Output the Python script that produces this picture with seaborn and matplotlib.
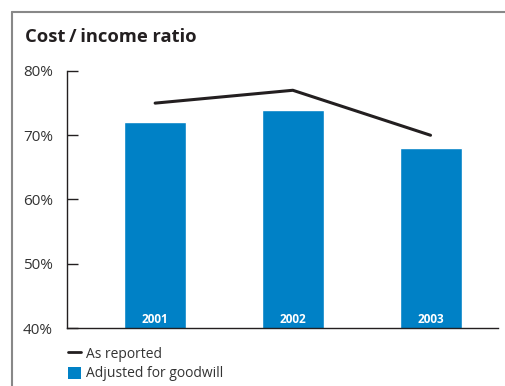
import matplotlib
matplotlib.use("Agg")
import matplotlib.pyplot as plt
import seaborn as sns
import numpy as np
import pandas as pd
from matplotlib.lines import Line2D
from matplotlib.patches import Patch

years = ["2001", "2002", "2003"]
adjusted = [72, 74, 68]
reported = [75, 77, 70]
yticks = [40, 50, 60, 70, 80]
ytick_labels = ["40%", "50%", "60%", "70%", "80%"]

blue = "#0081C6"
dark = "#231F20"

sns.set_theme(style="white")
plt.rcParams["font.family"] = ["Open Sans", "DejaVu Sans"]

fig = plt.figure(figsize=(5.05, 3.86), dpi=100)
ax = fig.add_axes([67/505, 1-328/386, (498-67)/505, (328-71)/386])

df = pd.DataFrame({"year": years, "adjusted": adjusted, "reported": reported})
sns.barplot(data=df, x="year", y="adjusted", color=blue, width=0.45,
            saturation=1, ax=ax)
sns.lineplot(x=np.arange(len(years)), y=reported, color=dark, linewidth=2.2,
             ax=ax)

ax.set_ylim(40, 80)
ax.set_xlim(-0.64, 2.49)
ax.set_yticks(yticks)
ax.set_yticklabels(ytick_labels, fontsize=11, color="#333333")
ax.set_xticks([])
ax.set_xlabel("")
ax.set_ylabel("")
ax.tick_params(axis="y", direction="in", length=8, width=1, color=dark, pad=10, left=True)
for s in ["top", "right"]:
    ax.spines[s].set_visible(False)
for s in ["left", "bottom"]:
    ax.spines[s].set_color(dark)
    ax.spines[s].set_linewidth(1)

for i, y in enumerate(years):
    ax.text(i, 41.3, y, color="white", fontsize=8.5, fontweight="bold",
            ha="center", va="center")

fig.text(25/505, 1-37/386, "Cost\u2009/\u2009income ratio", fontsize=13.2, fontweight="bold",
         ha="left", va="center", color=dark)

# frame
fig.add_artist(Line2D([12/505, 12/505], [0, 1-12/386], color="#888888", lw=1.5,
                      transform=fig.transFigure))
fig.add_artist(Line2D([12/505, 1], [1-12/386, 1-12/386], color="#888888", lw=1.5,
                      transform=fig.transFigure))

handles = [Line2D([0], [0], color=dark, lw=2),
           Patch(facecolor=blue, edgecolor="none")]
fig.legend(handles, ["As reported", "Adjusted for goodwill"],
           loc="upper left", bbox_to_anchor=(62/505, 1-341/386), frameon=False,
           fontsize=10, handlelength=0.95, handleheight=0.95,
           handletextpad=0.4, labelspacing=0.35, borderaxespad=0,
           labelcolor="#333333")

fig.savefig("out.png", dpi=100)
